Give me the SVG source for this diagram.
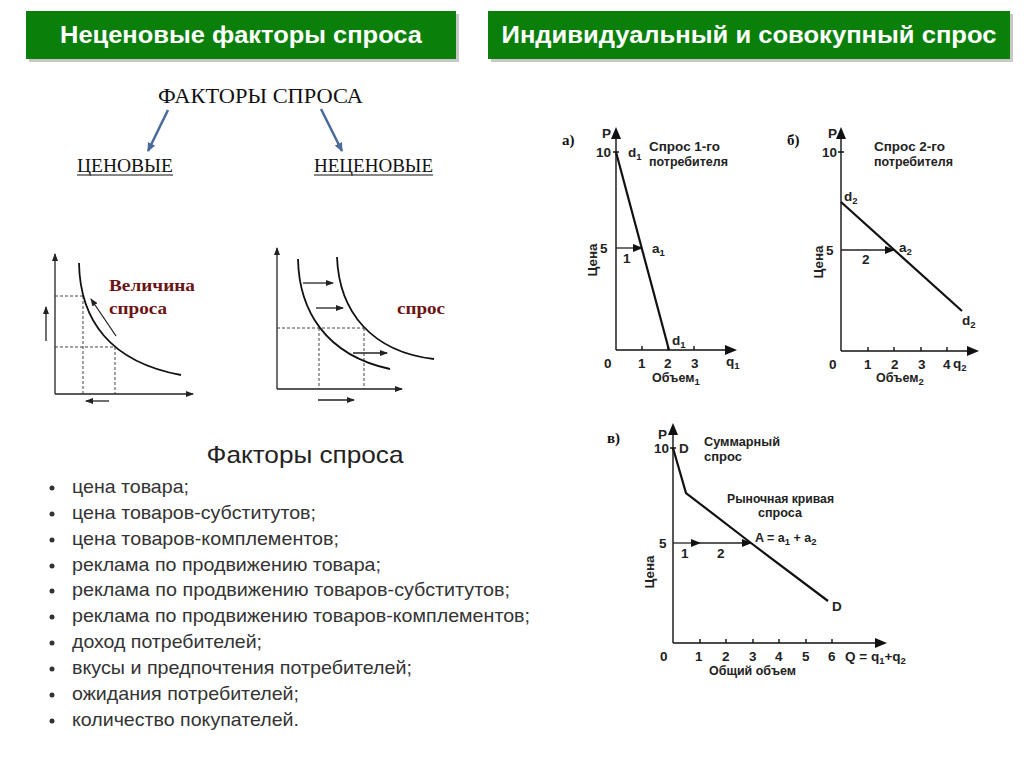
<svg xmlns="http://www.w3.org/2000/svg" width="1024" height="767" viewBox="0 0 1024 767">
<style>
.hdr{font-family:"Liberation Sans",Arial,sans-serif;font-size:24px;font-weight:bold;fill:#fff}
.ser{font-family:"Liberation Serif","Times New Roman",serif;fill:#111}
.lbl{font-family:"Liberation Sans",Arial,sans-serif;font-size:13.5px;font-weight:bold;fill:#222}
.sm{font-family:"Liberation Sans",Arial,sans-serif;font-size:12.5px;font-weight:bold;fill:#222}
.sub{font-size:9.5px}
.ax{stroke:#111;stroke-width:1.4;fill:none}
.crv{stroke:#111;stroke-width:2.2;fill:none}
.thin{stroke:#222;stroke-width:1.3;fill:none}
.dash{stroke:#444;stroke-width:1;stroke-dasharray:3 2;fill:none}
.li{font-family:"Liberation Sans",Arial,sans-serif;font-size:19px;fill:#333}
.red{font-family:"Liberation Serif","Times New Roman",serif;font-size:17px;font-weight:bold;fill:#6b1414}
</style>
<defs>
<marker id="ah" markerWidth="8" markerHeight="6" refX="7" refY="3" orient="auto" markerUnits="userSpaceOnUse"><path d="M0,0 L8,3 L0,6 Z" fill="#222"/></marker>
<marker id="ahb" markerWidth="10" markerHeight="8" refX="9" refY="4" orient="auto" markerUnits="userSpaceOnUse"><path d="M0,0 L10,4 L0,8 Z" fill="#111"/></marker>
<marker id="ahblue" markerWidth="9" markerHeight="8" refX="8" refY="4" orient="auto" markerUnits="userSpaceOnUse"><path d="M0,0 L9,4 L0,8 Z" fill="#4a6a9c"/></marker>
</defs>
<rect width="1024" height="767" fill="#fff"/>

<g id="header-left">
<rect x="29" y="14" width="430" height="48" fill="#c8c8c8"/>
<rect x="26" y="11" width="430" height="48" fill="#0a800a"/>
<text class="hdr" x="241" y="43" text-anchor="middle" textLength="362" lengthAdjust="spacingAndGlyphs">Неценовые факторы спроса</text>
</g>
<g id="header-right">
<rect x="491" y="14" width="522" height="48" fill="#c8c8c8"/>
<rect x="488" y="11" width="522" height="48" fill="#0a800a"/>
<text class="hdr" x="749" y="43" text-anchor="middle" textLength="495" lengthAdjust="spacingAndGlyphs">Индивидуальный и совокупный спрос</text>
</g>

<g id="factors-tree">
<text class="ser" x="158" y="103" font-size="20" textLength="205" lengthAdjust="spacingAndGlyphs">ФАКТОРЫ СПРОСА</text>
<text class="ser" x="77" y="172" font-size="18" textLength="96" lengthAdjust="spacingAndGlyphs">ЦЕНОВЫЕ</text>
<line x1="77" y1="175" x2="173" y2="175" stroke="#111" stroke-width="1"/>
<text class="ser" x="314" y="172" font-size="18" textLength="119" lengthAdjust="spacingAndGlyphs">НЕЦЕНОВЫЕ</text>
<line x1="314" y1="175" x2="433" y2="175" stroke="#111" stroke-width="1"/>
</g>
<g id="tree-connectors">
<line x1="168" y1="110" x2="148" y2="151" stroke="#4a6a9c" stroke-width="2.5" marker-end="url(#ahblue)"/>
<line x1="321" y1="109" x2="342" y2="151" stroke="#4a6a9c" stroke-width="2.5" marker-end="url(#ahblue)"/>
</g>

<g id="graph-quantity">
<line class="thin" x1="55" y1="394" x2="55" y2="254" marker-end="url(#ah)"/>
<line class="thin" x1="55" y1="394" x2="193" y2="394" marker-end="url(#ah)"/>
<path class="dash" d="M55,296 H83 M83,296 V394 M55,347 H115 M115,347 V394"/>
<path class="crv" style="stroke-width:1.8" d="M79,263 C80,320 110,362 181,375"/>
<line class="thin" x1="116" y1="336" x2="91" y2="299" marker-end="url(#ah)"/>
<line class="thin" x1="46" y1="341" x2="46" y2="307" marker-end="url(#ah)"/>
<line class="thin" x1="109" y1="401" x2="86" y2="401" marker-end="url(#ah)"/>
<text class="red" x="109" y="291" textLength="86" lengthAdjust="spacingAndGlyphs">Величина</text>
<text class="red" x="109" y="314" textLength="58" lengthAdjust="spacingAndGlyphs">спроса</text>
</g>

<g id="graph-demand-shift">
<line class="thin" x1="277" y1="389" x2="277" y2="248" marker-end="url(#ah)"/>
<line class="thin" x1="277" y1="389" x2="402" y2="389" marker-end="url(#ah)"/>
<path class="dash" d="M277,328 H364 M319,328 V389 M364,328 V389"/>
<path class="crv" style="stroke-width:1.8" d="M298,259 C299,310 325,355 390,369"/>
<path class="crv" style="stroke-width:1.8" d="M337,257 C339,312 372,352 434,359"/>
<line class="thin" x1="303" y1="283" x2="333" y2="283" marker-end="url(#ah)"/>
<line class="thin" x1="316" y1="308" x2="343" y2="308" marker-end="url(#ah)"/>
<line class="thin" x1="353" y1="353" x2="387" y2="353" marker-end="url(#ah)"/>
<line class="thin" x1="318" y1="400" x2="354" y2="400" marker-end="url(#ah)"/>
<text class="red" x="397" y="314" textLength="48" lengthAdjust="spacingAndGlyphs">спрос</text>
</g>

<g id="factors-list">
<text x="305" y="463" font-family="'Liberation Sans',Arial,sans-serif" font-size="24" fill="#222" text-anchor="middle" textLength="197" lengthAdjust="spacingAndGlyphs">Факторы спроса</text>
<g fill="#333">
<circle cx="52" cy="488" r="2.5"/><circle cx="52" cy="514" r="2.5"/><circle cx="52" cy="540" r="2.5"/><circle cx="52" cy="566" r="2.5"/><circle cx="52" cy="591" r="2.5"/><circle cx="52" cy="617" r="2.5"/><circle cx="52" cy="643" r="2.5"/><circle cx="52" cy="669" r="2.5"/><circle cx="52" cy="695" r="2.5"/><circle cx="52" cy="721" r="2.5"/>
</g>
<text class="li" x="72" y="493" textLength="117" lengthAdjust="spacingAndGlyphs">цена товара;</text>
<text class="li" x="72" y="519" textLength="244" lengthAdjust="spacingAndGlyphs">цена товаров-субститутов;</text>
<text class="li" x="72" y="545" textLength="267" lengthAdjust="spacingAndGlyphs">цена товаров-комплементов;</text>
<text class="li" x="72" y="571" textLength="309" lengthAdjust="spacingAndGlyphs">реклама по продвижению товара;</text>
<text class="li" x="72" y="596" textLength="438" lengthAdjust="spacingAndGlyphs">реклама по продвижению товаров-субститутов;</text>
<text class="li" x="72" y="622" textLength="458" lengthAdjust="spacingAndGlyphs">реклама по продвижению товаров-комплементов;</text>
<text class="li" x="72" y="648" textLength="190" lengthAdjust="spacingAndGlyphs">доход потребителей;</text>
<text class="li" x="72" y="674" textLength="340" lengthAdjust="spacingAndGlyphs">вкусы и предпочтения потребителей;</text>
<text class="li" x="72" y="700" textLength="227" lengthAdjust="spacingAndGlyphs">ожидания потребителей;</text>
<text class="li" x="72" y="726" textLength="227" lengthAdjust="spacingAndGlyphs">количество покупателей.</text>
</g>

<g id="graph-a">
<text class="ser" x="562" y="145" font-size="15" font-weight="bold">а)</text>
<line class="ax" x1="616" y1="350" x2="616" y2="136"/>
<path d="M616,127 L611,139 L621,139 Z" fill="#111"/>
<line class="ax" x1="616" y1="350" x2="728" y2="350"/>
<path d="M737,350 L725,345 L725,355 Z" fill="#111"/>
<path class="ax" d="M613,152 H619 M642,346 V350 M668,346 V350 M694,346 V350"/>
<line class="crv" x1="616" y1="152" x2="669" y2="350"/>
<line class="thin" x1="616" y1="248" x2="642" y2="248" marker-end="url(#ahb)"/>
<text class="lbl" x="602" y="138">P</text>
<text class="lbl" x="596" y="157">10</text>
<text class="lbl" x="600" y="253">5</text>
<text class="lbl" x="628" y="157">d<tspan class="sub" dy="3">1</tspan></text>
<text class="sm" x="649" y="151" textLength="71" lengthAdjust="spacingAndGlyphs">Спрос 1-го</text>
<text class="sm" x="649" y="166" textLength="79" lengthAdjust="spacingAndGlyphs">потребителя</text>
<text class="lbl" x="652" y="253">a<tspan class="sub" dy="3">1</tspan></text>
<text class="lbl" x="623" y="263">1</text>
<text class="lbl" x="672" y="345">d<tspan class="sub" dy="3">1</tspan></text>
<text class="lbl" x="604" y="368">0</text>
<text class="lbl" x="638" y="368">1</text>
<text class="lbl" x="664" y="368">2</text>
<text class="lbl" x="691" y="368">3</text>
<text class="lbl" x="726" y="366">q<tspan class="sub" dy="3">1</tspan></text>
<text class="sm" x="652" y="382" >Объем<tspan class="sub" dy="3">1</tspan></text>
<text class="lbl" transform="translate(597,260) rotate(-90)" text-anchor="middle">Цена</text>
</g>

<g id="graph-b">
<text class="ser" x="787" y="145" font-size="15" font-weight="bold">б)</text>
<line class="ax" x1="841" y1="351" x2="841" y2="136"/>
<path d="M841,127 L836,139 L846,139 Z" fill="#111"/>
<line class="ax" x1="841" y1="351" x2="970" y2="351"/>
<path d="M979,351 L967,346 L967,356 Z" fill="#111"/>
<path class="ax" d="M838,152 H844 M868,347 V351 M894,347 V351 M921,347 V351 M947,347 V351"/>
<line class="crv" x1="841" y1="202" x2="962" y2="311"/>
<line class="thin" x1="841" y1="250" x2="894" y2="250" marker-end="url(#ahb)"/>
<text class="lbl" x="828" y="138">P</text>
<text class="lbl" x="822" y="157">10</text>
<text class="lbl" x="826" y="255">5</text>
<text class="lbl" x="844" y="201">d<tspan class="sub" dy="3">2</tspan></text>
<text class="sm" x="874" y="151" textLength="71" lengthAdjust="spacingAndGlyphs">Спрос 2-го</text>
<text class="sm" x="874" y="166" textLength="79" lengthAdjust="spacingAndGlyphs">потребителя</text>
<text class="lbl" x="899" y="252">a<tspan class="sub" dy="3">2</tspan></text>
<text class="lbl" x="862" y="264">2</text>
<text class="lbl" x="962" y="325">d<tspan class="sub" dy="3">2</tspan></text>
<text class="lbl" x="829" y="369">0</text>
<text class="lbl" x="864" y="369">1</text>
<text class="lbl" x="891" y="369">2</text>
<text class="lbl" x="918" y="369">3</text>
<text class="lbl" x="943" y="369">4</text>
<text class="lbl" x="953" y="368">q<tspan class="sub" dy="3">2</tspan></text>
<text class="sm" x="876" y="382">Объем<tspan class="sub" dy="3">2</tspan></text>
<text class="lbl" transform="translate(823,262) rotate(-90)" text-anchor="middle">Цена</text>
</g>

<g id="graph-c">
<text class="ser" x="607" y="443" font-size="15" font-weight="bold">в)</text>
<line class="ax" x1="673" y1="643" x2="673" y2="432"/>
<path d="M673,423 L668,435 L678,435 Z" fill="#111"/>
<line class="ax" x1="673" y1="643" x2="878" y2="643"/>
<path d="M887,643 L875,638 L875,648 Z" fill="#111"/>
<path class="ax" d="M670,448 H676 M700,639 V643 M726,639 V643 M753,639 V643 M779,639 V643 M806,639 V643 M832,639 V643"/>
<polyline class="crv" points="673,448 686,493 751,543 828,601"/>
<line class="thin" x1="673" y1="543" x2="700" y2="543" marker-end="url(#ahb)"/>
<line class="thin" x1="700" y1="543" x2="751" y2="543" marker-end="url(#ahb)"/>
<text class="lbl" x="658" y="439">P</text>
<text class="lbl" x="654" y="453">10</text>
<text class="lbl" x="659" y="548">5</text>
<text class="lbl" x="679" y="453">D</text>
<text class="sm" x="704" y="446" textLength="76" lengthAdjust="spacingAndGlyphs">Суммарный</text>
<text class="sm" x="704" y="461" textLength="38" lengthAdjust="spacingAndGlyphs">спрос</text>
<text class="sm" x="727" y="503" textLength="107" lengthAdjust="spacingAndGlyphs">Рыночная кривая</text>
<text class="sm" x="758" y="517" textLength="44" lengthAdjust="spacingAndGlyphs">спроса</text>
<text class="sm" x="755" y="542">A = a<tspan class="sub" dy="3">1</tspan><tspan dy="-3"> + a</tspan><tspan class="sub" dy="3">2</tspan></text>
<text class="lbl" x="681" y="558">1</text>
<text class="lbl" x="717" y="558">2</text>
<text class="lbl" x="832" y="611">D</text>
<text class="lbl" x="660" y="661">0</text>
<text class="lbl" x="695" y="661">1</text>
<text class="lbl" x="722" y="661">2</text>
<text class="lbl" x="749" y="661">3</text>
<text class="lbl" x="775" y="661">4</text>
<text class="lbl" x="802" y="661">5</text>
<text class="lbl" x="828" y="661">6</text>
<text class="lbl" x="845" y="661">Q = q<tspan class="sub" dy="3">1</tspan><tspan dy="-3">+q</tspan><tspan class="sub" dy="3">2</tspan></text>
<text class="sm" x="709" y="675" textLength="87" lengthAdjust="spacingAndGlyphs">Общий объем</text>
<text class="lbl" transform="translate(654,572) rotate(-90)" text-anchor="middle">Цена</text>
</g>
</svg>
